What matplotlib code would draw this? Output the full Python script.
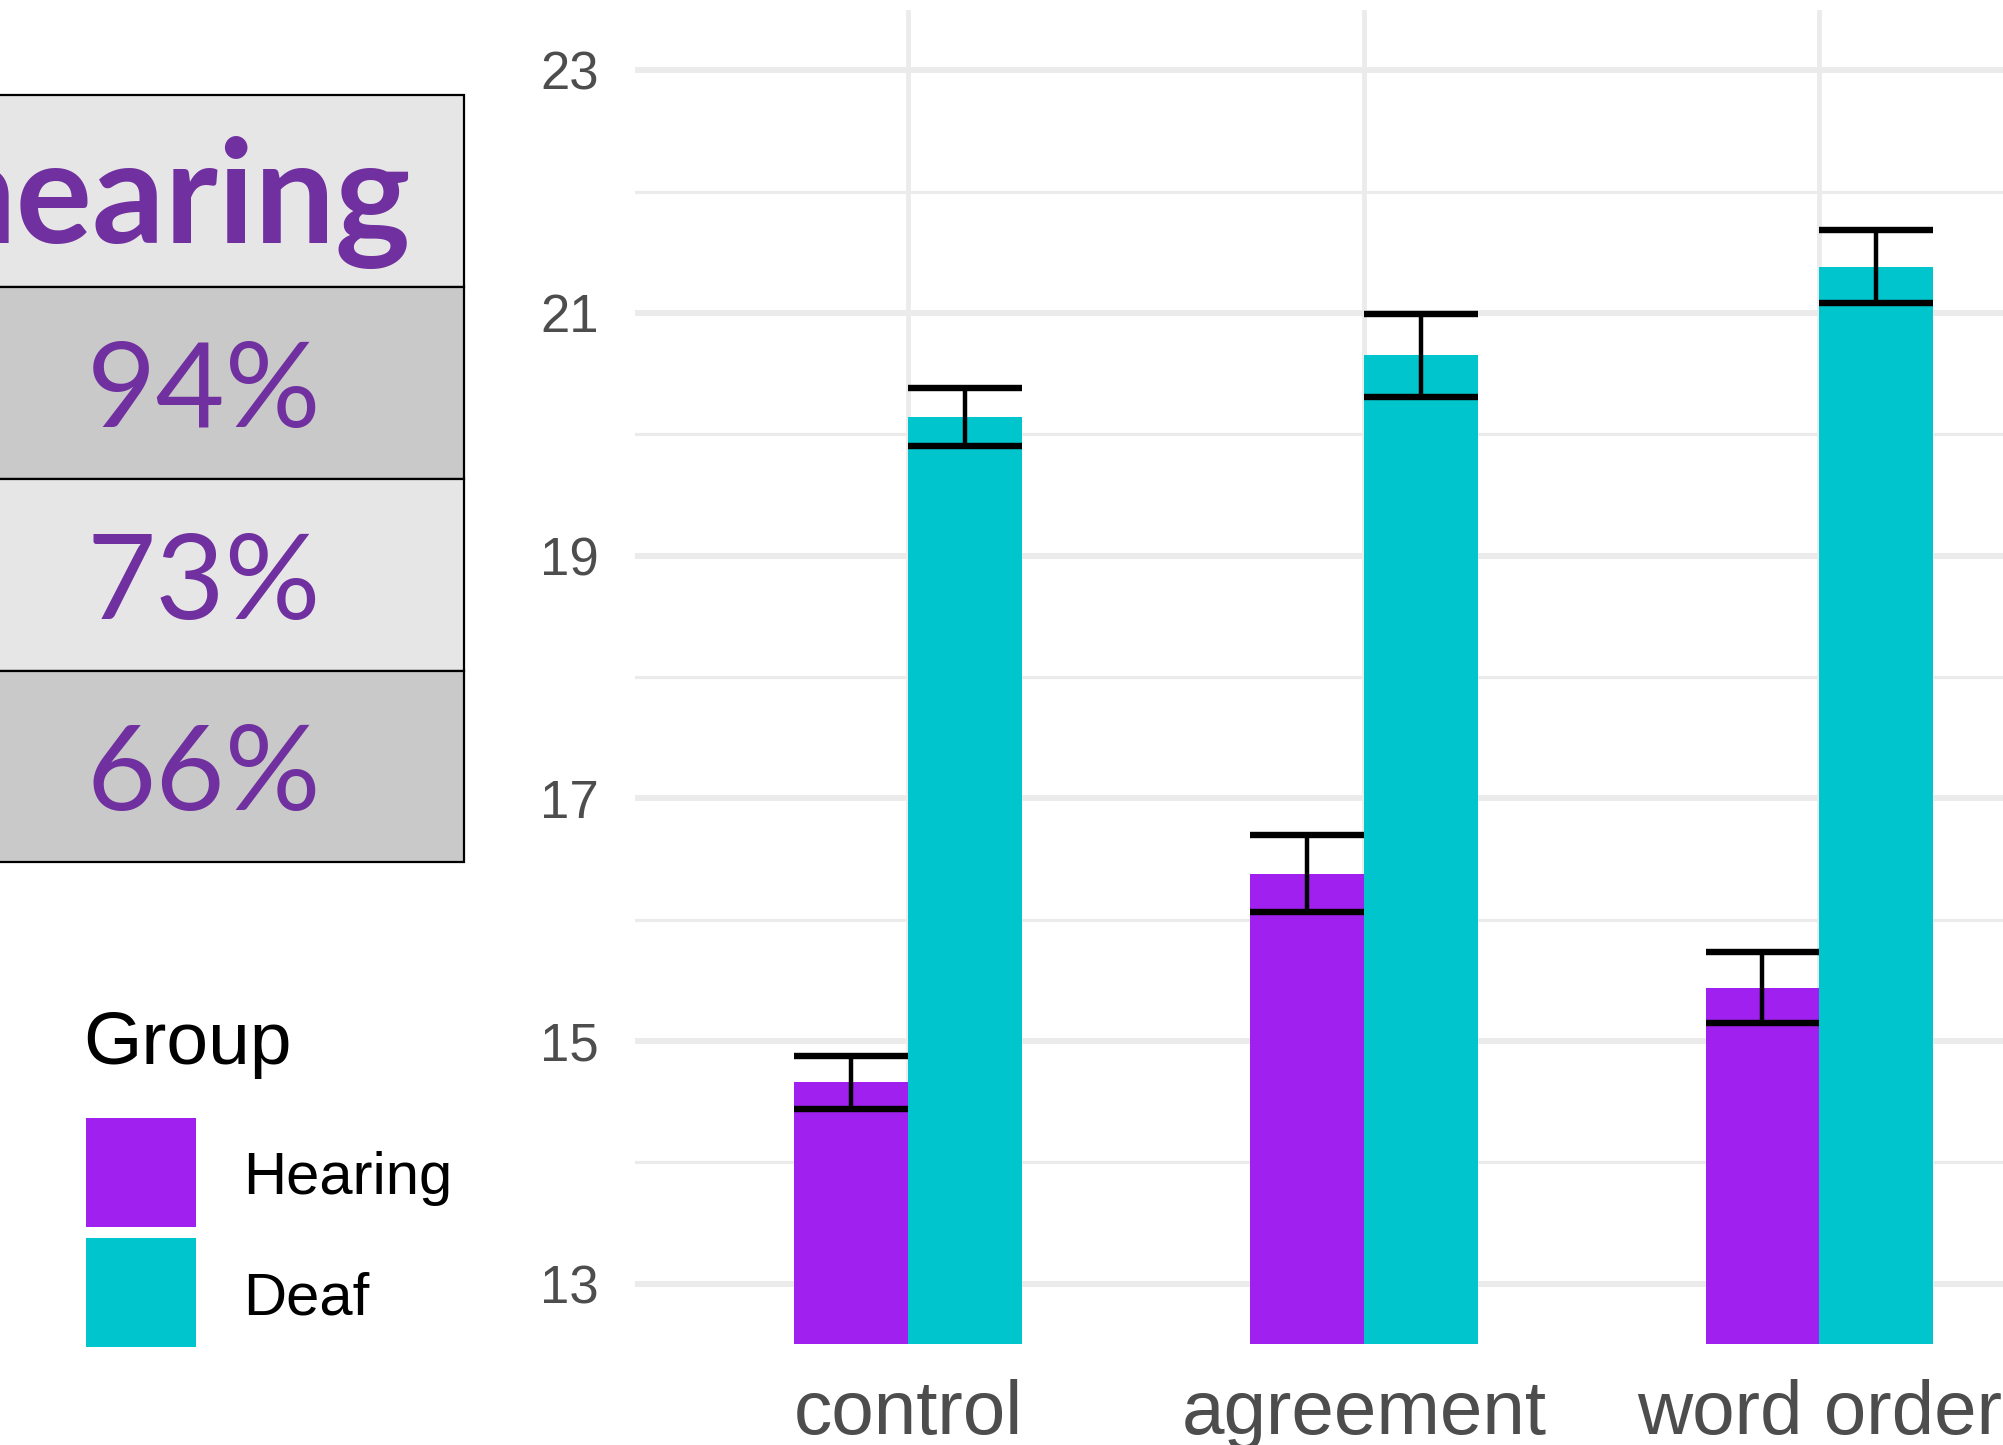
import matplotlib
matplotlib.use("Agg")
import matplotlib.pyplot as plt
from matplotlib.patches import Rectangle
import numpy as np

plt.rcParams['font.family'] = ['Liberation Sans', 'DejaVu Sans']

# data
categories = ['control', 'agreement', 'word order']
groups = ['Hearing', 'Deaf']
hearing_mean = [14.66, 16.38, 15.44]
hearing_se = [0.22, 0.32, 0.29]
deaf_mean = [20.14, 20.65, 21.38]
deaf_se = [0.24, 0.34, 0.30]
table_header = 'hearing'
table_values = ['94%', '73%', '66%']

colors = ['#A020F0', '#00C5CD']
W, H = 2003, 1445

fig = plt.figure(figsize=(W / 100, H / 100), dpi=100)

# overlay in pixel coords for the table / legend
ov = fig.add_axes([0, 0, 1, 1], zorder=0)
ov.set_xlim(0, W)
ov.set_ylim(H, 0)
ov.axis('off')

# table (cropped slide piece)
row_edges = [94.5, 287, 479, 671, 862]
row_colors = ['#E7E6E6', '#C9C9C9', '#E7E6E6', '#C9C9C9']
for i in range(4):
    ov.add_patch(Rectangle((-20, row_edges[i]), 484, row_edges[i + 1] - row_edges[i],
                           facecolor=row_colors[i], edgecolor='black', lw=1.6))
ov.text(411, 243, table_header, ha='right', va='baseline', color='#7030A0',
        fontsize=103, fontweight='bold', family=['Lato', 'DejaVu Sans'])
for i, v in enumerate(table_values):
    yc = (row_edges[i + 1] + row_edges[i + 2]) / 2
    ov.text(204, yc, v, ha='center', va='center_baseline', color='#7030A0',
            fontsize=86, family=['Lato', 'DejaVu Sans'])

# legend
ov.text(83, 1064, 'Group', ha='left', va='baseline', fontsize=54, color='black')
key_tops = [1117.7, 1237.8]
for i, g in enumerate(groups):
    ov.add_patch(Rectangle((85.6, key_tops[i]), 110, 109, facecolor=colors[i], edgecolor='none'))
    ov.text(242.7, key_tops[i] + 55, g, ha='left', va='center_baseline', fontsize=43, color='black')

# bar chart
ax = fig.add_axes([0.317, 0.0696, 0.683, 0.9238], zorder=1)
x = np.arange(1, len(categories) + 1)
bw = 0.25
for off, mean, se, c in [(-bw / 2, hearing_mean, hearing_se, colors[0]),
                         (bw / 2, deaf_mean, deaf_se, colors[1])]:
    xs = x + off
    ax.bar(xs, mean, width=bw, color=c, zorder=2)
    lo = np.array(mean) - np.array(se)
    hi = np.array(mean) + np.array(se)
    ax.vlines(xs, lo, hi, color='black', lw=3.2, zorder=3)
    ax.hlines(lo, xs - bw / 2, xs + bw / 2, color='black', lw=4.6, zorder=3)
    ax.hlines(hi, xs - bw / 2, xs + bw / 2, color='black', lw=4.6, zorder=3)

ax.set_xlim(0.4, 3.403)
ax.set_ylim(12.5, 23.5)
ax.set_xticks(x)
ax.set_xticklabels(categories)
ax.set_yticks([13, 15, 17, 19, 21, 23])
ax.set_yticks([14, 16, 18, 20, 22], minor=True)
ax.set_axisbelow(True)
ax.grid(axis='y', which='major', color='#EBEBEB', lw=4.3)
ax.grid(axis='y', which='minor', color='#EBEBEB', lw=2.3)
ax.grid(axis='x', which='major', color='#EBEBEB', lw=3.4)
for s in ax.spines.values():
    s.set_visible(False)
ax.tick_params(axis='both', which='both', length=0)
ax.tick_params(axis='x', labelsize=55, labelcolor='#4D4D4D', pad=25)
ax.tick_params(axis='y', labelsize=38, labelcolor='#4D4D4D', pad=26)

fig.savefig('out.png', dpi=100)
